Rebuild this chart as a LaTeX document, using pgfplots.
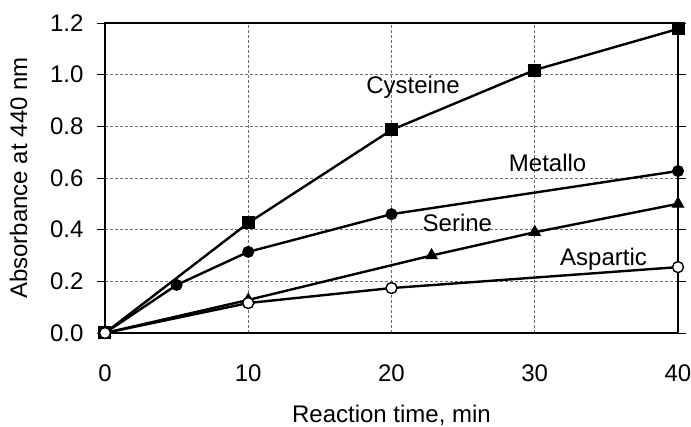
\documentclass[border=0pt]{standalone}
\usepackage{pgfplots}
\pgfplotsset{compat=1.18}
\usepackage{fontspec}
\setmainfont{Liberation Sans}

\begin{document}
\begin{tikzpicture}
% fixed page frame around the 573 x 310 plot area
\useasboundingbox (-105pt,-94pt) rectangle (586pt,333pt);
\begin{axis}[
  at={(0,0)}, anchor=south west,
  scale only axis, width=573pt, height=310pt,
  xmin=0, xmax=40, ymin=0, ymax=1.2,
  xtick={0,10,20,30,40},
  ytick={0,0.2,0.4,0.6,0.8,1.0,1.2},
  /pgf/number format/assume math mode=true,
  tick label style={font=\fontsize{24}{28}\selectfont},
  xticklabel style={yshift=-20pt},
  yticklabel style={xshift=-10pt, /pgf/number format/.cd, fixed, fixed zerofill, precision=1},
  label style={font=\fontsize{24}{28}\selectfont},
  xlabel={Reaction time, min},
  ylabel={Absorbance at 440 nm},
  xlabel style={yshift=-17pt},
  ylabel style={yshift=16pt},
  grid=major,
  major grid style={densely dashed, gray!85!black, line width=0.8pt},
  axis line style={line width=1.8pt},
  tick align=outside,
  ytick style={line width=0.9pt, black},
  major tick length=8pt,
  xtick style={draw=none},
  clip=false,
]
% Cysteine protease
\addplot[black, line width=2.4pt, mark=square*, mark size=6pt,
  mark options={solid, fill=black, line width=1pt}] coordinates {
  (0,0) (10,0.426) (20,0.786) (30,1.018) (40,1.177)};
% Metalloprotease
\addplot[black, line width=2.4pt, mark=*, mark size=5.5pt,
  mark options={solid, fill=black, line width=1pt}] coordinates {
  (0,0) (5,0.186) (10,0.314) (20,0.46) (40,0.627)};
% Serine protease
\addplot[black, line width=2.4pt, mark=triangle*, mark size=6.5pt,
  mark options={solid, fill=black, line width=1pt}] coordinates {
  (0,0) (10,0.128) (22.8,0.30) (30,0.39) (40,0.50)};
% Aspartic protease
\addplot[black, line width=2.4pt, mark=*, mark size=5.5pt,
  mark options={solid, fill=white, draw=black, line width=1.4pt}] coordinates {
  (0,0) (10,0.116) (20,0.174) (40,0.255)};

\node[font=\fontsize{24}{28}\selectfont] at (axis cs:21.5,0.952) {Cysteine};
\node[font=\fontsize{24}{28}\selectfont] at (axis cs:30.9,0.658) {Metallo};
\node[font=\fontsize{24}{28}\selectfont] at (axis cs:24.6,0.426) {Serine};
\node[font=\fontsize{24}{28}\selectfont] at (axis cs:34.8,0.286) {Aspartic};
\end{axis}
\end{tikzpicture}
\end{document}
